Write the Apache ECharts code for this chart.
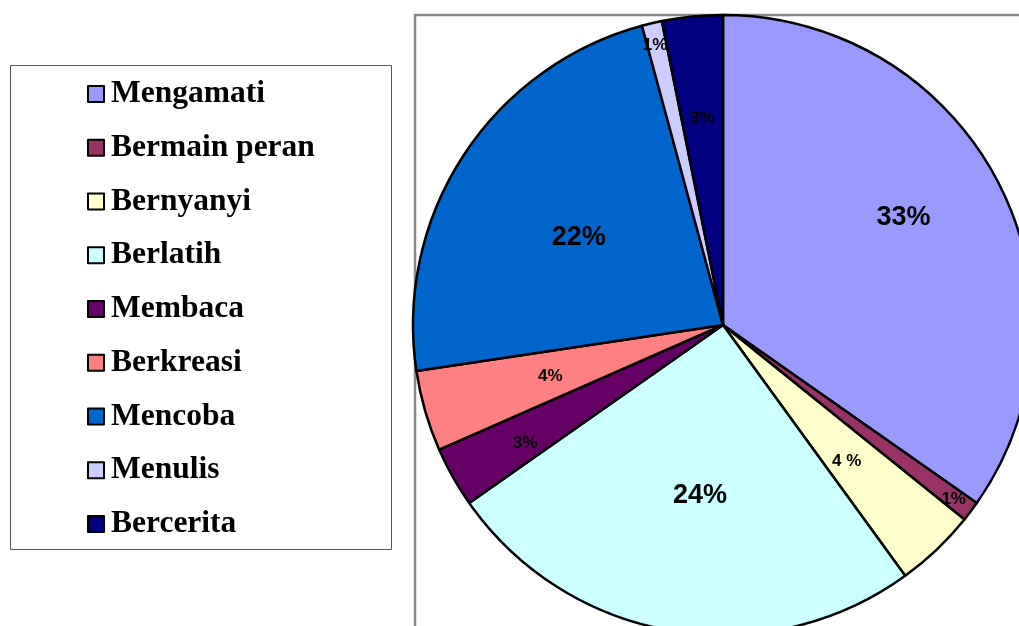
<!DOCTYPE html>
<html>
<head>
<meta charset="utf-8">
<script src="https://cdn.jsdelivr.net/npm/echarts@6/dist/echarts.min.js"></script>
<style>
  html, body { margin: 0; padding: 0; background: #fff; }
  #main { width: 1019px; height: 626px; }
</style>
</head>
<body>
<div id="main"></div>
<script>
// kategori kegiatan dan nilainya
var categories = ['Mengamati', 'Bermain peran', 'Bernyanyi', 'Berlatih', 'Membaca', 'Berkreasi', 'Mencoba', 'Menulis', 'Bercerita'];
var values = [33, 1, 4, 24, 3, 4, 22, 1, 3];
var labels = ['33%', '1%', '4 %', '24%', '3%', '4%', '22%', '1%', '3%'];

var colors = ['#9999FF', '#993366', '#FFFFCC', '#CCFFFF', '#660066', '#FF8080', '#0066CC', '#CCCCFF', '#000080'];
// posisi label: jarak dari pusat (fraksi radius) dan geser sudut (derajat)
var labelDist = [0.678, 0.933, 0.593, 0.556, 0.743, 0.581, 0.545, 0.928, 0.670];
var labelShift = [-3.4, 0.15, 1.3, -1.8, -1.5, -0.5, -1.8, -0.4, 0];

var chart = echarts.init(document.getElementById('main'), null, { renderer: 'canvas' });

var option = {
  backgroundColor: '#fff',
  animation: false,
  color: colors,
  legend: {
    orient: 'vertical',
    left: 87,
    top: 78,
    padding: 0,
    itemWidth: 16,
    itemHeight: 16,
    itemGap: 21.75,
    icon: 'rect',
    selectedMode: false,
    data: categories,
    itemStyle: { borderColor: '#000', borderWidth: 2 },
    textStyle: {
      fontFamily: 'Liberation Serif',
      fontWeight: 'bold',
      fontSize: 31.5,
      lineHeight: 32,
      color: '#000',
      padding: [0, 0, 0, 2]
    }
  },
  graphic: [
    {
      type: 'rect',
      z: 0,
      shape: { x: 10.5, y: 65.5, width: 381, height: 484 },
      style: { fill: null, stroke: '#555', lineWidth: 1 }
    },
    {
      type: 'polyline',
      z: 0,
      shape: { points: [[415, 626], [415, 15], [1019, 15]] },
      style: { fill: null, stroke: '#888', lineWidth: 2.5 }
    }
  ],
  series: [{
    type: 'pie',
    z: 5,
    center: [723, 325],
    radius: [0, 310],
    startAngle: 90,
    clockwise: true,
    avoidLabelOverlap: false,
    emphasis: { disabled: true },
    itemStyle: { borderColor: '#000', borderWidth: 2.5 },
    label: {
      show: true,
      position: 'inside',
      fontFamily: 'Liberation Sans',
      fontWeight: 'bold',
      color: '#000',
      formatter: function (p) { return labels[p.dataIndex]; }
    },
    labelLine: { show: false },
    labelLayout: function (p) {
      var i = p.dataIndex;
      var lay = chart.getModel().getSeriesByIndex(0).getData().getItemLayout(i);
      var mid = (lay.startAngle + lay.endAngle) / 2 + labelShift[i] * Math.PI / 180;
      var d = lay.r * labelDist[i];
      return {
        x: lay.cx + d * Math.cos(mid),
        y: lay.cy + d * Math.sin(mid),
        align: 'center',
        verticalAlign: 'middle'
      };
    },
    data: categories.map(function (name, i) {
      return {
        name: name,
        value: values[i],
        label: { fontSize: values[i] >= 20 ? 27 : 17 }
      };
    })
  }]
};

chart.setOption(option);
</script>
</body>
</html>
